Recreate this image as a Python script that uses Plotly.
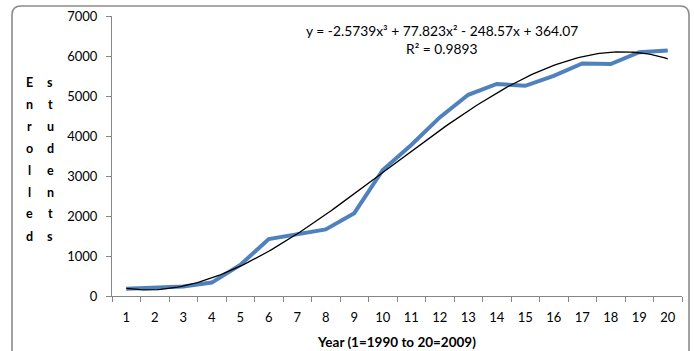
import plotly.graph_objects as go

# ---- data ----
years = list(range(1, 21))
enrolled = [180, 200, 235, 335, 775, 1425, 1545, 1665, 2070, 3150,
            3775, 4465, 5030, 5300, 5255, 5505, 5815, 5800, 6095, 6135]
# cubic trendline coefficients as printed on the chart
coef = [-2.5739, 77.823, -248.57, 364.07]
eq_text = "y = -2.5739x³ + 77.823x² - 248.57x + 364.07"
r2_text = "R² = 0.9893"
y_ticks = [0, 1000, 2000, 3000, 4000, 5000, 6000, 7000]
x_title = "Year (1=1990 to 20=2009)"
y_title_words = "Enrolled students".split()

W, H = 694, 351
L, R, T, B = 112, 12, 16, 55
pw, ph = W - L - R, H - T - B

def px_x(px):
    return (px - L) / pw

def px_y(py):
    return (H - B - py) / ph

tx = [1 + i * 0.1 for i in range(191)]
ty = [((coef[0] * x + coef[1]) * x + coef[2]) * x + coef[3] for x in tx]

FONT = "Lato"
fig = go.Figure()
fig.add_trace(go.Scatter(x=years, y=enrolled, mode="lines",
                         line=dict(color="#4F81BD", width=4), showlegend=False))
fig.add_trace(go.Scatter(x=tx, y=ty, mode="lines",
                         line=dict(color="#000000", width=1.3), showlegend=False))

annotations = [
    dict(x=px_x(442), y=px_y(30), xref="paper", yref="paper", text=eq_text,
         showarrow=False, font=dict(family=FONT, size=13.8, color="#000"),
         xanchor="center", yanchor="middle"),
    dict(x=px_x(442), y=px_y(48), xref="paper", yref="paper", text=r2_text,
         showarrow=False, font=dict(family=FONT, size=13.8, color="#000"),
         xanchor="center", yanchor="middle"),
]
col_x = [29, 50]
for c, word in enumerate(y_title_words):
    for i, ch in enumerate(word):
        annotations.append(dict(
            x=px_x(col_x[c]), y=px_y(82 + 22 * i), xref="paper", yref="paper",
            text=ch, showarrow=False, xanchor="center", yanchor="middle",
            font=dict(family=FONT, size=12.5, color="#000", weight="bold")))

# rounded chart border
x0, x1 = px_x(12), px_x(689)
y0, y1 = px_y(365), px_y(6)
rx, ry = 9 / pw, 9 / ph
path = (f"M {x0},{y0} L {x0},{y1-ry} Q {x0},{y1} {x0+rx},{y1} "
        f"L {x1-rx},{y1} Q {x1},{y1} {x1},{y1-ry} L {x1},{y0}")

fig.update_layout(
    width=W, height=H, margin=dict(l=L, r=R, t=T, b=B, pad=0, autoexpand=False),
    paper_bgcolor="white", plot_bgcolor="white",
    font=dict(family=FONT, size=13, color="#000"),
    annotations=annotations,
    shapes=[dict(type="path", path=path, xref="paper", yref="paper",
                 line=dict(color="#8a8a8a", width=1.6), layer="above")],
    xaxis=dict(range=[0.5, 20.5], tickvals=years, ticktext=[str(v) for v in years],
               ticks="outside", ticklen=9, tickcolor="rgba(0,0,0,0)",
               showline=True, linecolor="#868686", linewidth=1,
               showgrid=False, zeroline=False, automargin=False,
               minor=dict(tickvals=[v + 0.5 for v in range(0, 21)], ticks="outside",
                          ticklen=5, tickcolor="#868686", showgrid=False),
               title=dict(text=f"<b>{x_title}</b>", standoff=13,
                          font=dict(family=FONT, size=13.5)),
               tickfont=dict(family=FONT, size=13)),
    yaxis=dict(range=[0, 7000], tickvals=y_ticks, ticks="outside", ticklen=5,
               tickcolor="#868686", showline=True, linecolor="#868686",
               linewidth=1, showgrid=False, zeroline=False, automargin=False,
               ticklabelstandoff=6, tickfont=dict(family=FONT, size=13)),
)
fig.write_html("out.html")
